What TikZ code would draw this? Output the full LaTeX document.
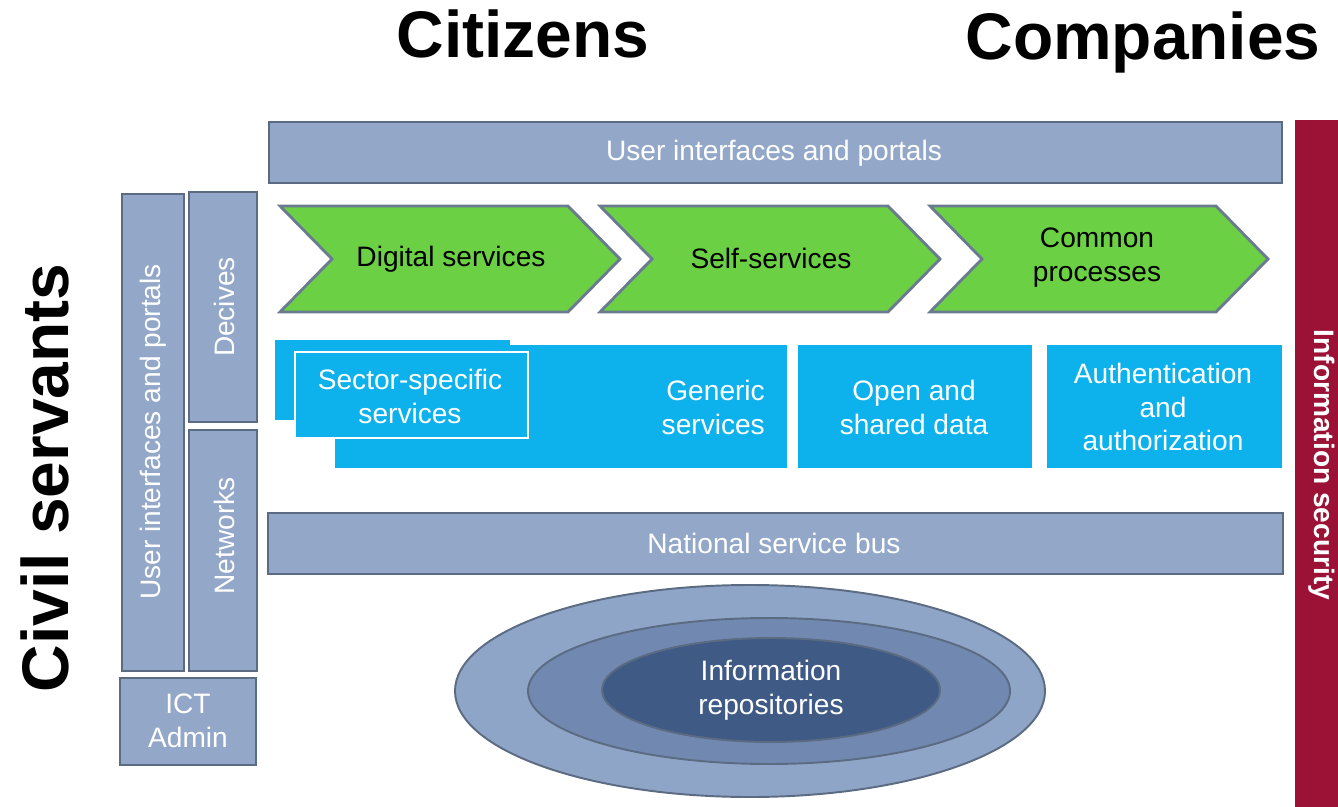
\documentclass[tikz,border=0pt]{standalone}
\usepackage{fontspec}
\setmainfont{Liberation Sans}
\definecolor{barfill}{HTML}{93A8C8}
\definecolor{barline}{HTML}{5B6B82}
\definecolor{chevfill}{HTML}{6CD045}
\definecolor{chevline}{HTML}{6A7A90}
\definecolor{svcblue}{HTML}{0DB2EC}
\definecolor{secred}{HTML}{9B1236}
\definecolor{ringA}{HTML}{8FA5C8}
\definecolor{ringB}{HTML}{7189B1}
\definecolor{ringC}{HTML}{3F5A85}
\tikzset{
  bar/.style={draw=barline, fill=barfill, line width=1.4pt},
  bartext/.style={text=white, font=\fontsize{16}{19.3}\selectfont, align=center},
  chev/.style={draw=chevline, fill=chevfill, line width=1.6pt, line join=miter},
  chevtext/.style={text=black, font=\fontsize{16}{19.3}\selectfont, align=center},
  svc/.style={fill=svcblue},
  title/.style={font=\fontsize{37.5}{40}\selectfont\bfseries, text=black},
  ring/.style={draw=barline, line width=1.1pt}
}
\begin{document}
\begin{tikzpicture}[x=0.02cm, y=-0.02cm]
\useasboundingbox[fill=white] (0,0) rectangle (1338,807);

% titles
\node[title, anchor=base] (citizens) at (523,58) {Citizens};
\node[title, anchor=base] (companies) at (1143,60) {Companies};
\node[title, rotate=90] (civil) at (45,478) {Civil servants};

% information security
\fill[secred] (1295,120) rectangle (1338,807);
\node[rotate=-90, text=white, font=\fontsize{16}{19}\selectfont\bfseries] (infosec) at (1322,465) {Information security};

% top bar
\draw[bar] (269,122) rectangle (1282,183);
\node[bartext] (uip) at (774,153) {User interfaces and portals};

% left column
\draw[bar] (122,194) rectangle (184,671);
\node[bartext, rotate=90] (uipv) at (153,432) {User interfaces and portals};
\draw[bar] (189,192) rectangle (257,422);
\node[bartext, rotate=90] (dev) at (224,307) {Decives};
\draw[bar] (189,430) rectangle (257,671);
\node[bartext, rotate=90] (net) at (224,536) {Networks};
\draw[bar] (120,678) rectangle (256,765);
\node[bartext] (ict) at (188,721) {ICT\\Admin};

% chevrons
\draw[chev] (280,206) -- (568,206) -- (620,259) -- (568,312) -- (280,312) -- (332,259) -- cycle;
\node[chevtext] (dig) at (451,259) {Digital services};
\draw[chev] (600,206) -- (888,206) -- (940,259) -- (888,312) -- (600,312) -- (652,259) -- cycle;
\node[chevtext] (self) at (771,258) {Self-services};
\draw[chev] (930,206) -- (1216,206) -- (1268,259) -- (1216,312) -- (930,312) -- (982,259) -- cycle;
\node[chevtext] (common) at (1097,258) {Common\\processes};

% services
\fill[svc] (275,340) rectangle (510,420);
\fill[svc] (335,345) rectangle (787,468);
\draw[svc, draw=white, line width=1.2pt] (295,352) rectangle (528,438);
\node[bartext] (sector) at (410,396) {Sector-specific\\services};
\node[bartext, align=right, anchor=east] (generic) at (771,407) {Generic\\services};
\fill[svc] (798,345) rectangle (1032,468);
\node[bartext] (open) at (914,407) {Open and\\shared data};
\fill[svc] (1047,345) rectangle (1282,468);
\node[bartext] (auth) at (1163,407) {Authentication\\and\\authorization};

% service bus
\draw[bar] (268,513) rectangle (1283,574);
\node[bartext] (bus) at (774,543) {National service bus};

% repositories
\draw[ring, fill=ringA] (750,691) ellipse [x radius=295, y radius=106];
\draw[ring, fill=ringB] (769,691) ellipse [x radius=241, y radius=73];
\draw[ring, fill=ringC] (771,690) ellipse [x radius=169, y radius=52];
\node[bartext] (repo) at (771,690) {Information\\repositories};

\end{tikzpicture}
\end{document}
